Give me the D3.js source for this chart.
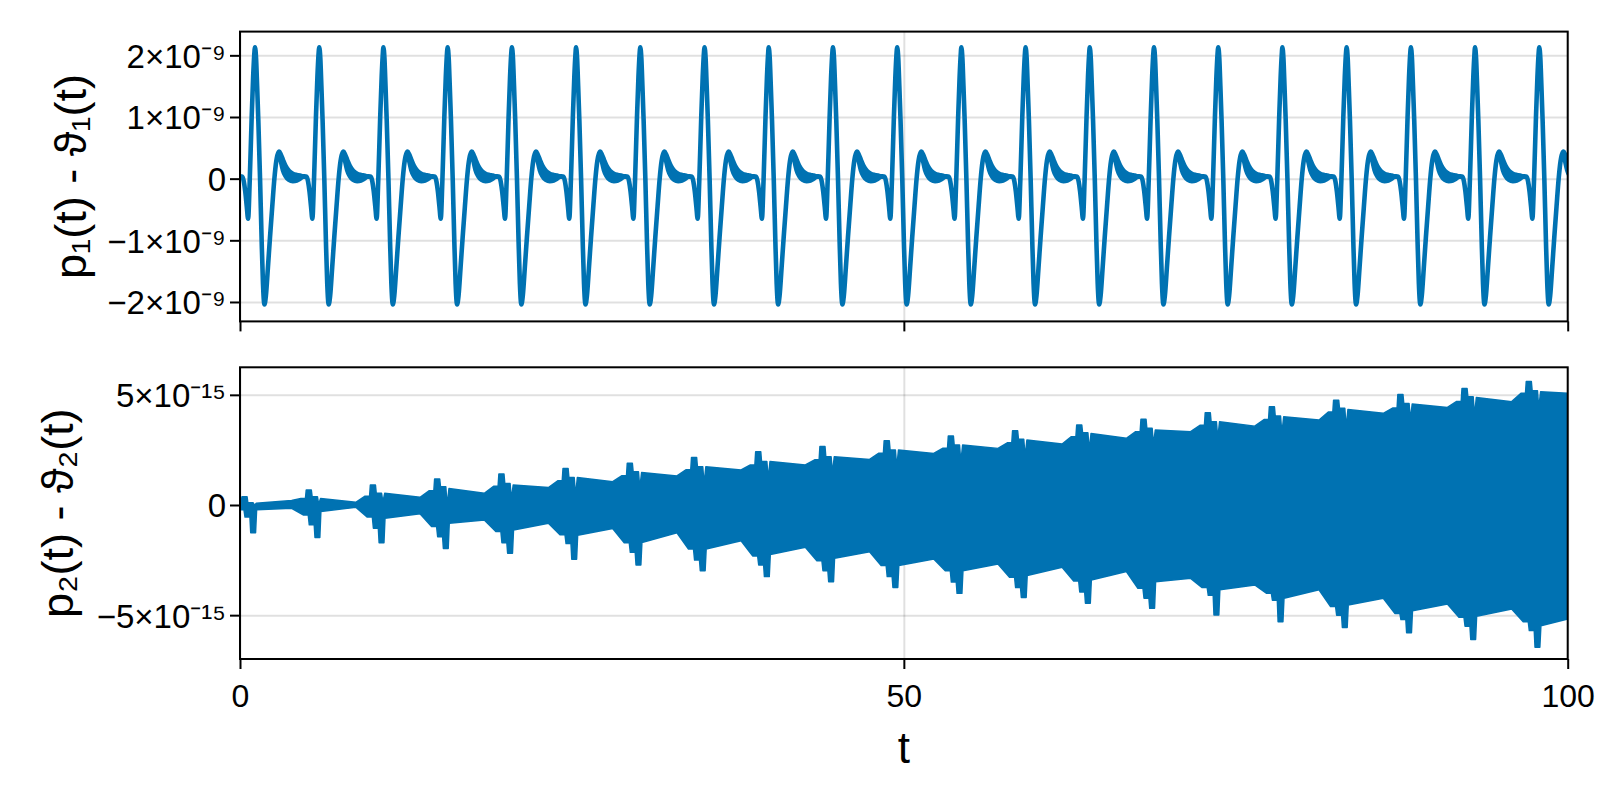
<!DOCTYPE html>
<html>
<head>
<meta charset="utf-8">
<script src="https://cdn.jsdelivr.net/npm/d3@7/dist/d3.min.js"></script>
<style>
html,body{margin:0;padding:0;background:#fff;}
svg{display:block;}
text{font-family:"Liberation Sans","Helvetica","Arial",sans-serif;fill:#000;}
</style>
</head>
<body>
<svg id="chart" width="1600" height="800"></svg>
<script>
// ---------------- data ----------------
const tExtent = [0, 100];
const tTicks = [0, 50, 100];
const tTickLabels = ["0", "50", "100"];
const xAxisTitle = "t";

// Panel 1: p1(t) - theta1(t), values in units of 1e-9
const p1Title = "p₁(t) - ϑ₁(t)";
const p1Extent = [-2.315, 2.385];
const p1Ticks = [-2, -1, 0, 1, 2];
const p1TickLabels = ["−2×10⁻⁹", "−1×10⁻⁹", "0", "1×10⁻⁹", "2×10⁻⁹"];
// times of the large positive peaks (one per cycle)
const p1PeakTimes = [-3.71, 1.13, 5.97, 10.80, 15.64, 20.48, 25.31, 30.15, 34.99, 39.82, 44.66,
  49.50, 54.33, 59.17, 64.00, 68.84, 73.68, 78.51, 83.35, 88.19, 93.02, 97.86];
// shape of one cycle: time after the peak, low / high edge of the (fast-oscillating) trace
const p1Phase = [0.00, 0.08, 0.16, 0.25, 0.38, 0.50, 0.60, 0.71, 0.82, 0.97,
  1.13, 1.30, 1.46, 1.60, 1.72, 1.82, 1.95, 2.10, 2.30, 2.55,
  2.85, 3.15, 3.40, 3.60, 3.89, 4.00, 4.10, 4.22, 4.32, 4.44,
  4.59, 4.70, 4.78];
const p1Low = [2.13, 1.95, 1.50, 0.95, 0.00, -1.00, -1.70, -2.04, -1.90, -1.45,
  -0.95, -0.45, 0.00, 0.28, 0.40, 0.42, 0.28, 0.14, 0.04, -0.02,
  -0.04, -0.03, 0.00, 0.03, 0.03, -0.05, -0.20, -0.45, -0.65, -0.05,
  1.00, 1.65, 2.00];
const p1High = [2.13, 1.95, 1.50, 0.95, 0.00, -1.00, -1.70, -2.04, -1.90, -1.45,
  -0.95, -0.45, 0.00, 0.28, 0.40, 0.44, 0.39, 0.31, 0.21, 0.13,
  0.08, 0.06, 0.05, 0.04, 0.03, -0.05, -0.20, -0.45, -0.65, -0.05,
  1.00, 1.65, 2.00];

// Panel 2: p2(t) - theta2(t), values in units of 1e-15 (envelope of a dense oscillation)
const p2Title = "p₂(t) - ϑ₂(t)";
const p2Extent = [-6.99, 6.25];
const p2Ticks = [-5, 0, 5];
const p2TickLabels = ["−5×10⁻¹⁵", "0", "5×10⁻¹⁵"];
const p2SpikeTimes = [0.35, 5.19, 10.02, 14.86, 19.70, 24.53, 29.37, 34.21, 39.04, 43.88, 48.72,
  53.55, 58.39, 63.22, 68.06, 72.90, 77.73, 82.57, 87.41, 92.24, 97.08];
const p2UpperEnd   = [0.00, 0.20, 0.12, 0.35, 0.53, 0.79, 1.06, 1.32, 1.59, 1.82, 2.07, 2.34, 2.57, 2.77, 3.03, 3.33, 3.58, 3.86, 4.16, 4.43, 4.69];
const p2UpperPre   = [0.15, 0.30, 0.40, 0.65, 0.85, 1.10, 1.33, 1.60, 1.82, 2.05, 2.35, 2.58, 2.82, 3.10, 3.33, 3.62, 3.88, 4.22, 4.40, 4.70, 5.07];
const p2UpperSpike = [0.38, 0.68, 0.91, 1.18, 1.41, 1.66, 1.89, 2.16, 2.42, 2.65, 2.92, 3.13, 3.37, 3.63, 3.89, 4.19, 4.46, 4.76, 5.02, 5.29, 5.60];
const p2UpperAfter = [0.10, 0.38, 0.53, 0.83, 0.98, 1.25, 1.51, 1.74, 1.97, 2.19, 2.50, 2.72, 2.98, 3.28, 3.48, 3.78, 4.04, 4.39, 4.61, 4.91, 5.19];
const p2UpperNotch = [0.02, 0.15, 0.30, 0.30, 0.53, 0.76, 1.06, 1.28, 1.51, 1.74, 2.04, 2.27, 2.50, 2.80, 3.03, 3.33, 3.56, 3.86, 4.16, 4.40, 4.70];
const p2UpperStart = [0.08, 0.30, 0.53, 0.75, 0.91, 1.25, 1.47, 1.74, 1.97, 2.19, 2.50, 2.72, 2.95, 3.25, 3.40, 3.78, 4.00, 4.34, 4.58, 4.88, 5.14];
const p2LowerEnd   = [-0.15, -0.15, -0.10, -0.40, -0.68, -0.83, -1.07, -1.26, -1.62, -1.92, -2.12, -2.45, -2.68, -2.83, -3.02, -3.33, -3.63, -3.85, -4.23, -4.49, -4.72];
const p2LowerStep1 = [-0.22, -0.45, -0.55, -0.98, -1.20, -1.35, -1.71, -2.00, -2.31, -2.53, -2.75, -2.98, -3.28, -3.45, -3.78, -3.75, -4.00, -4.61, -4.92, -5.10, -5.30];
const p2LowerStep2 = [-0.55, -0.90, -1.05, -1.44, -1.71, -1.75, -2.15, -2.50, -2.72, -2.98, -3.25, -3.50, -3.75, -3.95, -4.23, -4.10, -4.32, -5.00, -5.20, -5.50, -5.70];
const p2LowerSpike = [-1.26, -1.47, -1.71, -1.97, -2.19, -2.46, -2.72, -2.98, -3.25, -3.48, -3.74, -4.01, -4.20, -4.46, -4.69, -4.99, -5.30, -5.56, -5.80, -6.10, -6.46];
const p2LowerStart = [-0.22, -0.30, -0.60, -0.83, -1.13, -1.37, -1.70, -2.00, -2.25, -2.42, -2.75, -2.98, -3.20, -3.40, -3.48, -3.85, -4.23, -4.54, -4.80, -5.05, -5.48];
const p2UpperOffsets = [-1.30, -0.60, -0.26, -0.20, 0.18, 0.24, 0.64, 0.70, 0.80, 0.88];
const p2LowerOffsets = [-1.30, -0.43, -0.05, 0.03, 0.40, 0.46, 0.82, 0.90];
const p2FinalTime = 100, p2FinalUpper = 5.07, p2FinalLower = -5.17;

// ---------------- drawing ----------------
const blue = "#0072b2";
const gridColor = "rgba(0,0,0,0.12)";
const frameL = 240, frameR = 1567.7;
const svg = d3.select("#chart");
const x = d3.scaleLinear().domain(tExtent).range([frameL, frameR]);

function setupPanel(id, top, bottom, extent, ticks, labels, title, titleX, showXLabels) {
  const y = d3.scaleLinear().domain(extent).range([bottom, top]);
  const g = svg.append("g");
  svg.append("clipPath").attr("id", "clip" + id)
    .append("rect").attr("x", frameL).attr("y", top)
    .attr("width", frameR - frameL).attr("height", bottom - top);

  // grid
  g.append("g").attr("transform", `translate(${frameL},0)`)
    .call(d3.axisLeft(y).tickValues(ticks).tickSize(-(frameR - frameL)).tickFormat(""))
    .call(a => a.select(".domain").remove())
    .call(a => a.selectAll("line").attr("stroke", gridColor).attr("stroke-width", 2));
  g.append("g").attr("transform", `translate(0,${bottom})`)
    .call(d3.axisBottom(x).tickValues(tTicks).tickSize(-(bottom - top)).tickFormat(""))
    .call(a => a.select(".domain").remove())
    .call(a => a.selectAll("line").attr("stroke", gridColor).attr("stroke-width", 2));

  const dataLayer = g.append("g").attr("clip-path", `url(#clip${id})`);
  const frameLayer = g.append("g");
  frameLayer.append("rect").attr("x", frameL).attr("y", top)
    .attr("width", frameR - frameL).attr("height", bottom - top)
    .attr("fill", "none").attr("stroke", "#000").attr("stroke-width", 2);

  // y axis ticks + labels
  frameLayer.append("g").attr("transform", `translate(${frameL},0)`)
    .call(d3.axisLeft(y).tickValues(ticks).tickSize(10).tickPadding(4)
      .tickFormat((d, i) => labels[i]))
    .call(a => a.select(".domain").remove())
    .call(a => a.selectAll("line").attr("stroke", "#000").attr("stroke-width", 2))
    .call(a => a.selectAll("text").attr("font-size", 33).attr("dy", "0.36em")
      .attr("font-family", "'Liberation Sans', Arial, sans-serif").attr("fill", "#000"));

  // x axis ticks
  frameLayer.append("g").attr("transform", `translate(0,${bottom})`)
    .call(d3.axisBottom(x).tickValues(tTicks).tickSize(10).tickPadding(4)
      .tickFormat((d, i) => showXLabels ? tTickLabels[i] : ""))
    .call(a => a.select(".domain").remove())
    .call(a => a.selectAll("line").attr("stroke", "#000").attr("stroke-width", 2))
    .call(a => a.selectAll("text").attr("font-size", 32).attr("y", 14).attr("dy", "1.05em")
      .attr("font-family", "'Liberation Sans', Arial, sans-serif").attr("fill", "#000"));

  // y title
  svg.append("text")
    .attr("transform", `translate(${titleX},${(top + bottom) / 2}) rotate(-90)`)
    .attr("text-anchor", "middle").attr("font-size", 45).text(title);

  return { y, dataLayer };
}

// Panel 1
const P1 = setupPanel(1, 31.6, 321.4, p1Extent, p1Ticks, p1TickLabels, p1Title, 86, false);
const p1Data = [];
p1PeakTimes.forEach(p => {
  p1Phase.forEach((ph, i) => p1Data.push({ t: p + ph, lo: p1Low[i], hi: p1High[i] }));
});
P1.dataLayer.append("path")
  .datum(p1Data)
  .attr("d", d3.area().x(d => x(d.t)).y0(d => P1.y(d.lo)).y1(d => P1.y(d.hi)).curve(d3.curveMonotoneX))
  .attr("fill", blue).attr("stroke", blue).attr("stroke-width", 4.6)
  .attr("stroke-linejoin", "round");

// Panel 2
const P2 = setupPanel(2, 367.3, 659, p2Extent, p2Ticks, p2TickLabels, p2Title, 73, true);
const upper = [], lower = [];
p2SpikeTimes.forEach((s, k) => {
  const uv = [p2UpperEnd[k], p2UpperPre[k], p2UpperPre[k], p2UpperSpike[k], p2UpperSpike[k],
    p2UpperAfter[k], p2UpperAfter[k], p2UpperNotch[k], p2UpperNotch[k], p2UpperStart[k]];
  p2UpperOffsets.forEach((o, i) => upper.push([s + o, uv[i]]));
  const lv = [p2LowerEnd[k], p2LowerStep1[k], p2LowerStep1[k], p2LowerStep2[k], p2LowerStep2[k],
    p2LowerSpike[k], p2LowerSpike[k], p2LowerStart[k]];
  p2LowerOffsets.forEach((o, i) => lower.push([s + o, lv[i]]));
});
upper.push([p2FinalTime, p2FinalUpper]);
lower.push([p2FinalTime, p2FinalLower]);
const outline = upper.concat(lower.slice().reverse());
P2.dataLayer.append("path")
  .datum(outline)
  .attr("d", d3.line().x(d => x(d[0])).y(d => P2.y(d[1])).curve(d3.curveLinearClosed))
  .attr("fill", blue).attr("stroke", blue).attr("stroke-width", 1.5)
  .attr("stroke-linejoin", "round");

// x title
svg.append("text").attr("x", (frameL + frameR) / 2).attr("y", 763)
  .attr("text-anchor", "middle").attr("font-size", 44).text(xAxisTitle);
</script>
</body>
</html>
